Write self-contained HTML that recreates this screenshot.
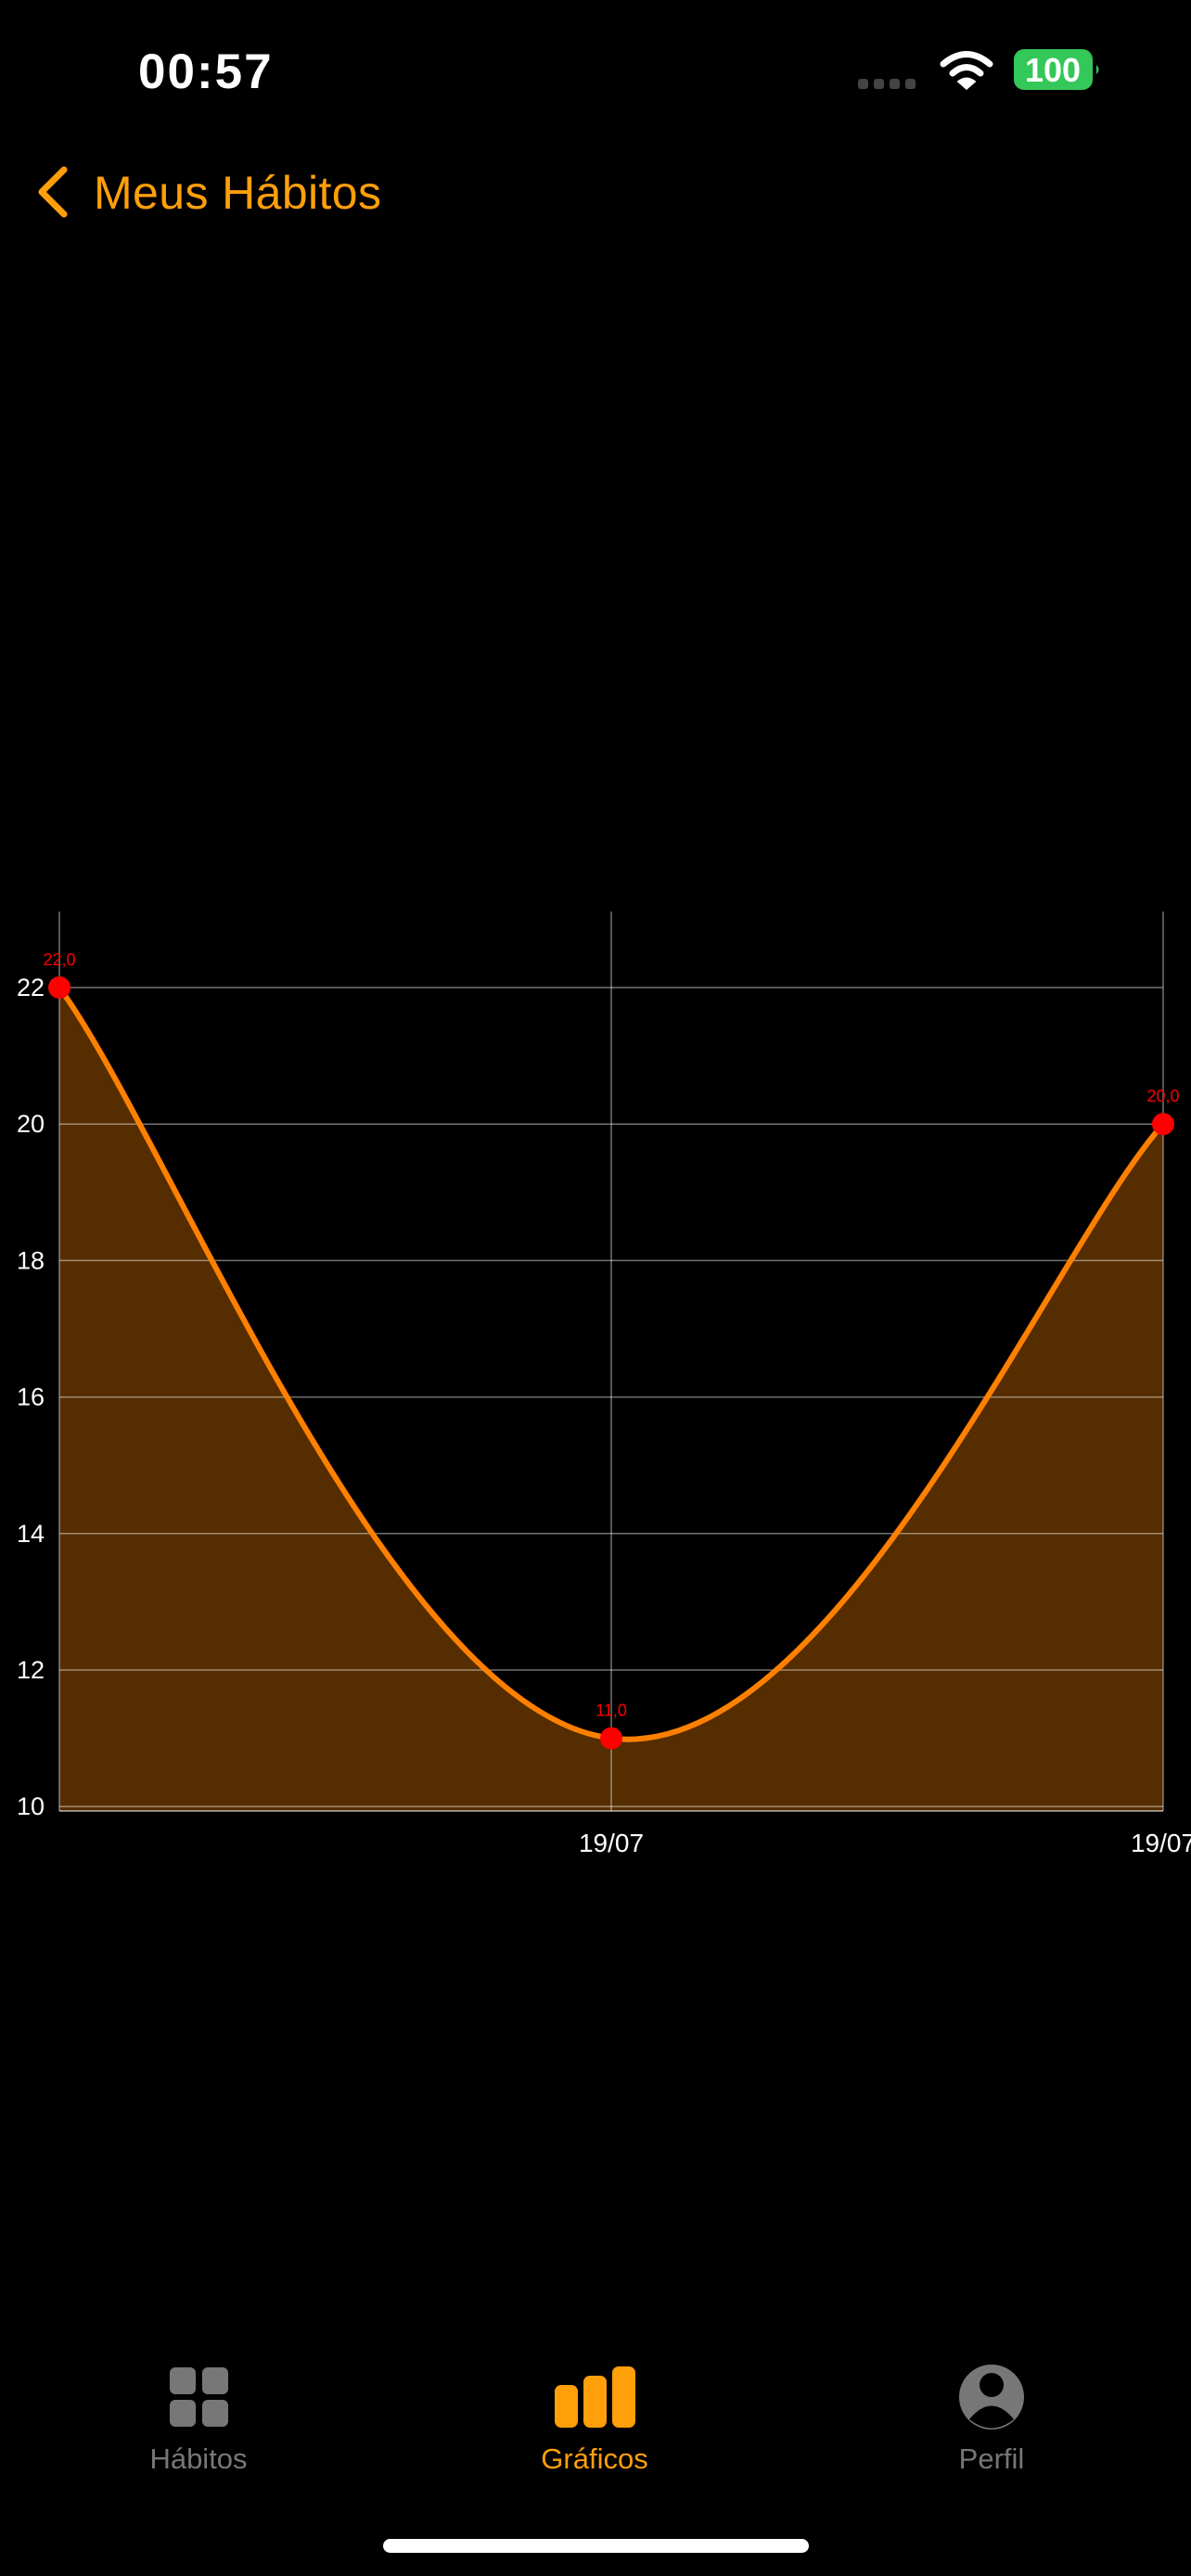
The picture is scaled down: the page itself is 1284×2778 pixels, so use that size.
<!DOCTYPE html>
<html><head><meta charset="utf-8"><style>
html,body{margin:0;padding:0;background:#000;width:1284px;height:2778px;overflow:hidden}
svg{display:block}
text{font-family:"Liberation Sans",sans-serif}
</style></head><body>
<svg id="s" width="1284" height="2778" viewBox="0 0 1284 2778" xmlns="http://www.w3.org/2000/svg">
<g>
<text x="149" y="95" font-size="53" font-weight="bold" fill="#fff" letter-spacing="2">00:57</text>
<g fill="#444"><rect x="925" y="85" width="11" height="11" rx="3"/><rect x="942" y="85" width="11" height="11" rx="3"/><rect x="959" y="85" width="11" height="11" rx="3"/><rect x="976" y="85" width="11" height="11" rx="3"/></g>
<g fill="none" stroke="#fff" stroke-width="7" stroke-linecap="round">
<path d="M1017 69 Q1042 48 1067 69"/><path d="M1027 79 Q1042 66 1057 79"/><path d="M1042 95 L1034 88 Q1042 82 1050 88 Z" fill="#fff" stroke-width="3"/></g>
<g>
<rect x="1093" y="53" width="85" height="44" rx="11" fill="#34C759"/>
<path d="M1182 70 q5 5 0 10 z" fill="#34C759"/>
<text x="1135" y="88" font-size="36" font-weight="bold" fill="#fff" text-anchor="middle">100</text></g>
</g>
<g>
<path d="M69 183 L45 207 L69 231" fill="none" stroke="#FF9F0A" stroke-width="7" stroke-linecap="round" stroke-linejoin="round"/>
<text x="101" y="225" font-size="50" fill="#FF9F0A" textLength="310">Meus Hábitos</text>
</g>
<g id="chart"></g>
<g>
<g fill="#777">
<rect x="183" y="2553" width="28" height="29" rx="6"/><rect x="218" y="2553" width="28" height="29" rx="6"/><rect x="183" y="2588" width="28" height="29" rx="6"/><rect x="218" y="2588" width="28" height="29" rx="6"/>
<text x="214" y="2662" font-size="31" text-anchor="middle">Hábitos</text></g>
<g fill="#FF9F0A">
<rect x="598" y="2572" width="25" height="46" rx="7"/><rect x="629" y="2562" width="25" height="56" rx="7"/><rect x="660" y="2552" width="25" height="66" rx="7"/>
<text x="641" y="2662" font-size="31" text-anchor="middle">Gráficos</text></g>
<g>
<circle cx="1069" cy="2585" r="35" fill="#777"/>
<circle cx="1069" cy="2572" r="13" fill="#000"/>
<path d="M1045 2609 Q1069 2580 1093 2609 Q1069 2628 1045 2609Z" fill="#000"/>
<text x="1069" y="2662" font-size="31" fill="#777" text-anchor="middle">Perfil</text></g>
<rect x="413" y="2738" width="459" height="15" rx="7.5" fill="#fff"/>
</g>
</svg>
<script>
const categories = ["19/07","19/07","19/07"];
const values = [22, 11, 20];
const valueLabels = ["22,0","11,0","20,0"];
const yTicks = [10,12,14,16,18,20,22];

const NS="http://www.w3.org/2000/svg";
const g=document.getElementById('chart');
const L=64,R=1254,T=983,B=1953;
const yPerUnit=73.6, y22=1065;
function y(v){return y22+(22-v)*yPerUnit;}
function x(i){return L+(R-L)*i/(values.length-1);}
function mk(tag,attrs,txt){const e=document.createElementNS(NS,tag);for(const k in attrs)e.setAttribute(k,attrs[k]);if(txt!==undefined)e.textContent=txt;g.appendChild(e);return e;}

const pts=values.map((v,i)=>[x(i),y(v)]);
let d=`M${pts[0][0]} ${pts[0][1]}`;
const k=0.2;
for(let i=1;i<pts.length;i++){
  const p0=pts[Math.max(i-2,0)],p1=pts[i-1],p2=pts[i],p3=pts[Math.min(i+1,pts.length-1)];
  const c1x=p1[0]+(p2[0]-p0[0])*k,c1y=p1[1]+(p2[1]-p0[1])*k;
  const c2x=p2[0]-(p3[0]-p1[0])*k,c2y=p2[1]-(p3[1]-p1[1])*k;
  d+=` C${c1x} ${c1y} ${c2x} ${c2y} ${p2[0]} ${p2[1]}`;
}
const area=mk('path',{d:d+` L${R} ${B} L${L} ${B} Z`,fill:'#552D00'});



yTicks.forEach(t=>{
  const ln=mk('line',{x1:L,x2:R,y1:y(t),y2:y(t),stroke:'rgba(255,255,255,0.45)','stroke-width':1.5});
  
  
  const tx=mk('text',{x:48,y:y(t)+9,'font-size':27,fill:'#fff','text-anchor':'end'},String(t));
  
  
});
values.forEach((v,i)=>{
  const ln=mk('line',{x1:x(i),x2:x(i),y1:T,y2:B,stroke:'rgba(255,255,255,0.45)','stroke-width':1.5});
  
  
  if(i>0){
    const tx=mk('text',{x:x(i),y:1997,'font-size':28,fill:'#fff','text-anchor':'middle'},categories[i]);
    
    
  }
});
const ax=mk('line',{x1:L,x2:R,y1:B,y2:B,stroke:'rgba(255,255,255,0.5)','stroke-width':2});



const line=mk('path',{d:d,fill:'none',stroke:'#FF8000','stroke-width':6});



values.forEach((v,i)=>{
  const c=mk('circle',{cx:x(i),cy:y(v),r:12,fill:'#FF0000'});
  
  
  const t=mk('text',{x:x(i),y:y(v)-24,'font-size':18,fill:'#FF0000','text-anchor':'middle'},valueLabels[i]);
  
  
});
</script>
</body></html>
